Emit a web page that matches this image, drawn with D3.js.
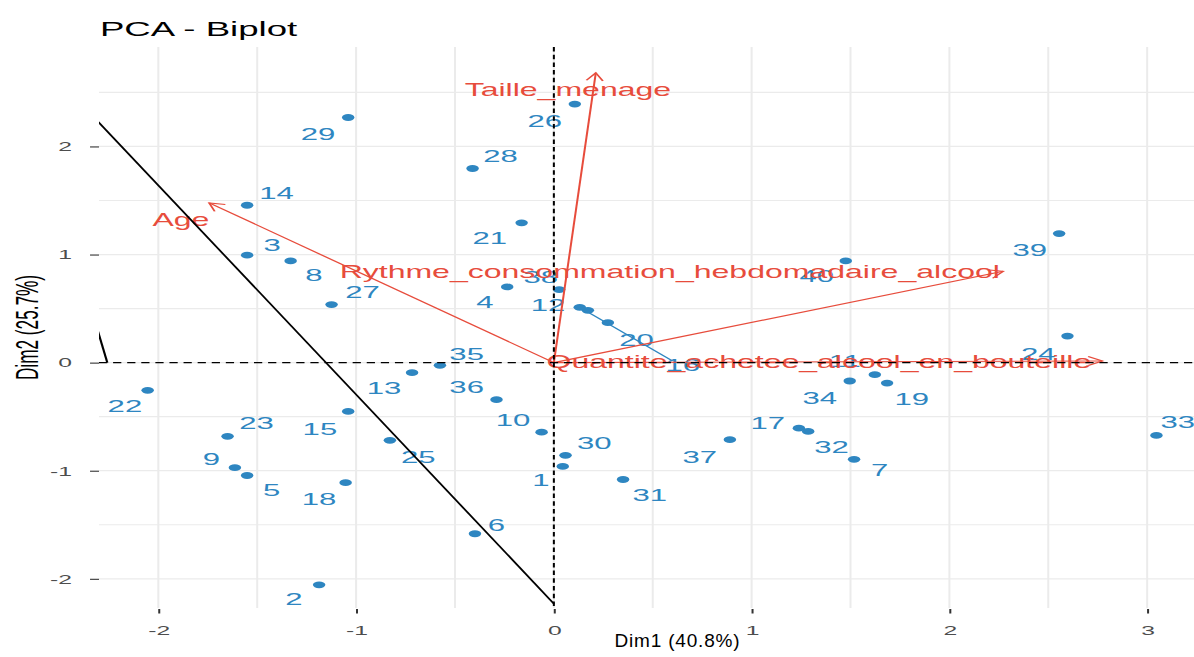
<!DOCTYPE html>
<html>
<head>
<meta charset="utf-8">
<script src="https://d3js.org/d3.v7.min.js"></script>
<style>
  body { margin: 0; background: #fff; }
  text { font-family: "Liberation Sans", Arial, sans-serif; }
</style>
</head>
<body>
<script>
// individuals (Dim1, Dim2) and where their repelled labels sit
var indNames = ["1","2","3","4","5","6","7","8","9","10",
                "11","12","13","14","15","16","17","18","19","20",
                "21","22","23","24","25","26","27","28","29","30",
                "31","32","33","34","35","36","37","38","39","40"];
var dim1 = [0.045,-1.187,-1.551,-0.236,-1.551,-0.399,1.518,-1.331,-1.613,-0.062,
            1.623,0.172,-0.717,-1.551,-1.040,0.131,1.239,-1.053,1.685,0.273,
            -0.163,-2.054,-1.650,2.597,-0.829,0.106,-1.124,-0.411,-1.040,0.059,
            0.350,1.286,3.047,1.496,-0.576,-0.290,0.890,0.027,2.555,1.476];
var dim2 = [-0.960,-2.056,0.994,0.700,-1.044,-1.583,-0.895,0.941,-0.972,-0.643,
            -0.111,0.484,-0.093,1.456,-0.451,0.512,-0.606,-1.111,-0.189,0.370,
            1.293,-0.256,-0.682,0.246,-0.719,2.392,0.537,1.796,2.268,-0.858,
            -1.081,-0.636,-0.673,-0.170,-0.025,-0.343,-0.713,0.676,1.194,0.941];
var labX = [-0.066,-1.314,-1.424,-0.349,-1.427,-0.290,1.648,-1.213,-1.731,-0.206,
            1.471,-0.029,-0.859,-1.402,-1.183,0.652,1.082,-1.187,1.810,0.418,
            -0.324,-2.169,-1.503,2.449,-0.686,-0.046,-0.967,-0.270,-1.192,0.204,
            0.485,1.404,3.155,1.345,-0.441,-0.441,0.738,-0.066,2.407,1.330];
var labY = [-1.090,-2.185,1.086,0.561,-1.176,-1.500,-0.997,0.808,-0.889,-0.534,
            0.012,0.531,-0.237,1.570,-0.611,-0.025,-0.562,-1.259,-0.340,0.206,
            1.148,-0.402,-0.559,0.083,-0.874,2.234,0.654,1.913,2.114,-0.741,
            -1.229,-0.781,-0.550,-0.328,0.083,-0.226,-0.874,0.793,1.040,0.799];
// label segment drawn by the repel step
var repelSeg = [{ind: 16, x2: 0.595, y2: 0.021}];

// variables
var varNames = ["Taille_menage","Age","Rythme_consommation_hebdomadaire_alcool","Quantite_achetee_alcool_en_bouteille"];
var varDim1 = [0.212,-1.743,2.272,2.774];
var varDim2 = [2.681,1.478,0.845,0.015];
var varLabX = [0.071,-1.886,0.586,1.340];
var varLabY = [2.521,1.318,0.836,0.003];

// extra black lines
var blackSegs = [{x1:-2.304, y1:2.228, x2:0, y2:-2.23},
                 {x1:-2.307, y1:0.30, x2:-2.258, y2:0}];

var xTicks = [-2,-1,0,1,2,3];
var yTicks = [-2,-1,0,1,2];

var W = 1194, H = 657, sx = 1.83;
var blue = "#2E86C1", red = "#E74C3C";

var svg = d3.select("body").append("svg")
  .attr("width", W)
  .attr("height", H);

// the picture is stretched sideways, so draw in narrow units and scale
var g = svg.append("g").attr("transform", "scale(" + sx + ",1)");

var pLeft = 54.1, pRight = 686.3, pTop = 47, pBottom = 608;
var x = d3.scaleLinear().domain([-2.30, 3.55]).range([pLeft, pRight]);
var y = d3.scaleLinear().domain([-2.27, 2.92]).range([pBottom, pTop]);

g.append("clipPath").attr("id", "panel")
  .append("rect")
  .attr("x", pLeft).attr("y", pTop)
  .attr("width", pRight - pLeft).attr("height", pBottom - pTop);

// grid
var xGrid = d3.range(-2, 3.51, 0.5);
var yGrid = d3.range(-2, 2.51, 0.5);
g.selectAll(".vgrid").data(xGrid).enter().append("line")
  .attr("x1", function(d){ return x(d); })
  .attr("x2", function(d){ return x(d); })
  .attr("y1", pTop).attr("y2", pBottom)
  .style("stroke", "#EBEBEB").style("stroke-width", 1.1);
g.selectAll(".hgrid").data(yGrid).enter().append("line")
  .attr("y1", function(d){ return y(d); })
  .attr("y2", function(d){ return y(d); })
  .attr("x1", pLeft).attr("x2", pRight)
  .style("stroke", "#EBEBEB").style("stroke-width", 1.2);

// axes
var xAxis = g.append("g")
  .attr("transform", "translate(0," + (pBottom + 1) + ")")
  .call(d3.axisBottom(x).tickValues(xTicks).tickSize(4.5).tickPadding(12)
        .tickFormat(function(d){ return String(d); }));
var yAxis = g.append("g")
  .attr("transform", "translate(" + pLeft + ",0)")
  .call(d3.axisLeft(y).tickValues(yTicks).tickSize(4.9).tickPadding(9.9)
        .tickFormat(function(d){ return String(d); }));
[xAxis, yAxis].forEach(function(a){
  a.select(".domain").remove();
  a.selectAll(".tick line").style("stroke", "#333").style("stroke-width", 1.1);
  a.selectAll(".tick text")
    .attr("font-family", "Liberation Sans, Arial, sans-serif")
    .style("font-size", "13.5px")
    .attr("fill", "#4D4D4D");
});

var plot = g.append("g").attr("clip-path", "url(#panel)");

// repel segment
repelSeg.forEach(function(s){
  plot.append("line")
    .attr("x1", x(dim1[s.ind - 1])).attr("y1", y(dim2[s.ind - 1]))
    .attr("x2", x(s.x2)).attr("y2", y(s.y2))
    .style("stroke", blue).style("stroke-width", 1);
});

// individuals
plot.selectAll(".ind").data(indNames).enter().append("circle")
  .attr("cx", function(d, i){ return x(dim1[i]); })
  .attr("cy", function(d, i){ return y(dim2[i]); })
  .attr("r", 3.4)
  .attr("fill", blue);

plot.selectAll(".indlab").data(indNames).enter().append("text")
  .attr("x", function(d, i){ return x(labX[i]); })
  .attr("y", function(d, i){ return y(labY[i]); })
  .attr("dy", ".35em")
  .style("text-anchor", "middle")
  .style("font-size", "17px")
  .attr("fill", blue)
  .text(function(d){ return d; });

// variable arrows
var head = 9, ang = Math.PI / 6;
varNames.forEach(function(v, i){
  var x0 = x(0), y0 = y(0), x1 = x(varDim1[i]), y1 = y(varDim2[i]);
  var a = Math.atan2(y1 - y0, x1 - x0);
  plot.append("line")
    .attr("x1", x0).attr("y1", y0).attr("x2", x1).attr("y2", y1)
    .style("stroke", red).style("stroke-width", 1.1);
  plot.append("path")
    .attr("d", "M" + (x1 - head * Math.cos(a - ang)) + "," + (y1 - head * Math.sin(a - ang))
             + "L" + x1 + "," + y1
             + "L" + (x1 - head * Math.cos(a + ang)) + "," + (y1 - head * Math.sin(a + ang)))
    .attr("fill", "none")
    .style("stroke", red).style("stroke-width", 1.1);
});

plot.selectAll(".varlab").data(varNames).enter().append("text")
  .attr("x", function(d, i){ return x(varLabX[i]); })
  .attr("y", function(d, i){ return y(varLabY[i]); })
  .attr("dy", ".35em")
  .style("text-anchor", "middle")
  .style("font-size", "17.5px")
  .attr("fill", red)
  .text(function(d){ return d; });

// origin lines
plot.append("line")
  .attr("x1", pLeft).attr("x2", pRight).attr("y1", y(0)).attr("y2", y(0))
  .style("stroke", "black").style("stroke-width", 1.1).style("stroke-dasharray", "4.5,3.2");
plot.append("line")
  .attr("x1", x(0)).attr("x2", x(0)).attr("y1", pTop).attr("y2", pBottom)
  .style("stroke", "black").style("stroke-width", 1.1).style("stroke-dasharray", "4.5,3.2");

plot.selectAll(".blk").data(blackSegs).enter().append("line")
  .attr("x1", function(d){ return x(d.x1); })
  .attr("y1", function(d){ return y(d.y1); })
  .attr("x2", function(d){ return x(d.x2); })
  .attr("y2", function(d){ return y(d.y2); })
  .style("stroke", "black").style("stroke-width", 1.2);

// titles
g.append("text")
  .attr("x", pLeft + 0.5).attr("y", 36.5)
  .style("font-size", "20px")
  .attr("fill", "black")
  .text("PCA - Biplot");

g.append("text")
  .attr("transform", "translate(20.8," + ((pTop + pBottom) / 2) + ") rotate(-90)")
  .style("text-anchor", "middle")
  .style("font-size", "17.2px")
  .attr("fill", "black")
  .text("Dim2 (25.7%)");

svg.append("text")
  .attr("x", (x(-2.30) + x(3.55)) / 2 * sx).attr("y", 647)
  .style("text-anchor", "middle")
  .style("font-size", "19px")
  .style("letter-spacing", "0.8px")
  .attr("fill", "black")
  .text("Dim1 (40.8%)");
</script>
</body>
</html>
